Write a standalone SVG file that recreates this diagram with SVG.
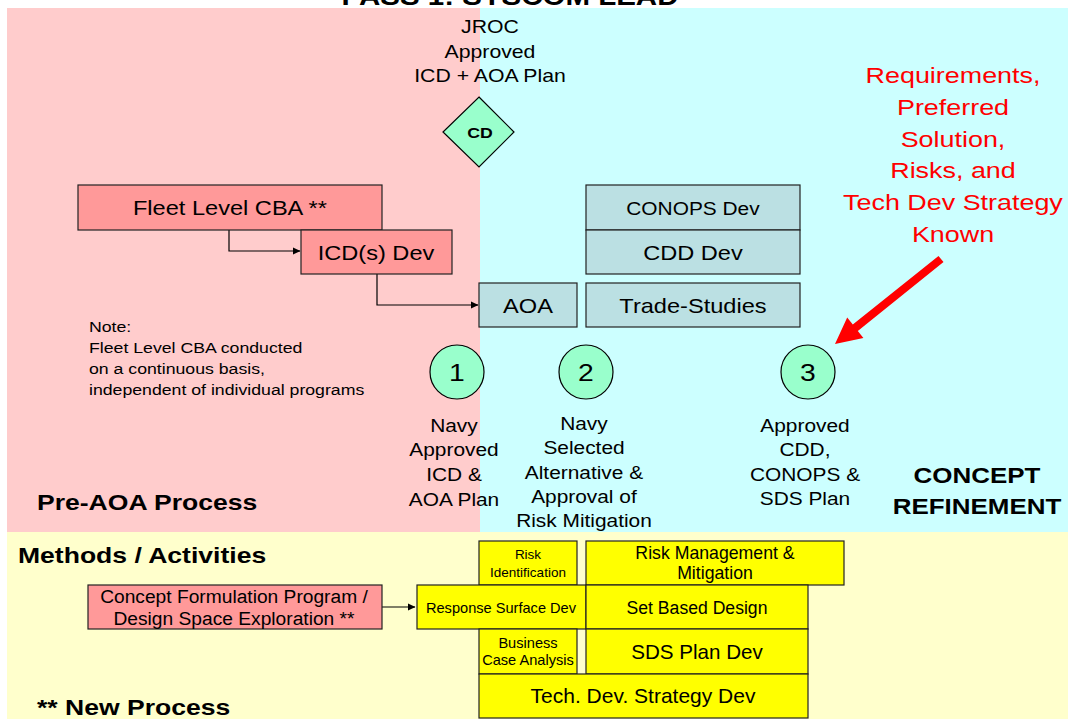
<svg xmlns="http://www.w3.org/2000/svg" width="1068" height="719" viewBox="0 0 1068 719">
  <style>
    text { font-family: "Liberation Sans", Arial, sans-serif; fill: #000; }
    .c { text-anchor: middle; }
    .b { font-weight: bold; }
    /* wide lettering used for the upper panel labels */
    .s { transform-box: fill-box; transform-origin: center; transform: scaleX(1.18); }
    .sl { transform-box: fill-box; transform-origin: left center; transform: scaleX(1.18); }
    .rt { fill: #FF0000; }
    .pink { fill: #FF9999; stroke: #222; stroke-width: 1.2; }
    .teal { fill: #BBE0E3; stroke: #222; stroke-width: 1.2; }
    .yel { fill: #FFFF00; stroke: #222; stroke-width: 1.2; }
    .mile { fill: #99FFCC; stroke: #000; stroke-width: 1.2; }
    .conn { fill: none; stroke: #000; stroke-width: 1.2; }
  </style>
  <defs>
    <marker id="arr" markerWidth="8" markerHeight="8" refX="7" refY="4" orient="auto" markerUnits="userSpaceOnUse">
      <path d="M0,0.5 L7.5,4 L0,7.5 Z" fill="#000"/>
    </marker>
  </defs>

  <!-- background bands -->
  <rect x="0" y="0" width="1068" height="719" fill="#FFFFFF"/>
  <rect x="7" y="8" width="473" height="524" fill="#FFCCCC"/>
  <rect x="480" y="8" width="588" height="524" fill="#CCFFFF"/>
  <rect x="7" y="532" width="1061" height="187" fill="#FFFFCC"/>

  <!-- heading, clipped by the page top -->
  <text class="c b s" x="510" y="5" font-size="25">PASS 1: SYSCOM LEAD</text>

  <!-- section labels -->
  <text class="b sl" x="37" y="510" font-size="22.5">Pre-AOA Process</text>
  <text class="c b s" x="977" y="483" font-size="22">CONCEPT</text>
  <text class="c b s" x="977" y="514" font-size="22">REFINEMENT</text>
  <text class="b sl" x="18" y="563" font-size="22.5">Methods / Activities</text>
  <text class="b sl" x="37" y="715" font-size="22.5">** New Process</text>

  <!-- decision point -->
  <g id="cd">
    <text class="c s" x="490" y="33" font-size="18">JROC</text>
    <text class="c s" x="490" y="58" font-size="18">Approved</text>
    <text class="c s" x="490" y="82" font-size="18">ICD + AOA Plan</text>
    <path d="M479,97 L514,132 L479,167 L443,132 Z" class="mile"/>
    <text class="c b s" x="480" y="138" font-size="15">CD</text>
  </g>

  <!-- connectors -->
  <g id="connectors">
    <path class="conn" d="M229,230 V251 H300" marker-end="url(#arr)"/>
    <path class="conn" d="M377,274 V305 H478" marker-end="url(#arr)"/>
    <path class="conn" d="M382,607 H415" marker-end="url(#arr)"/>
    <!-- red callout arrow -->
    <path d="M938.5,255.9 L943.5,262.1 L857.8,330.9 L863.4,337.9 L835,344 L847.2,317.6 L852.8,324.6 Z" fill="#FF0000"/>
  </g>

  <g id="fleet-cba">
    <rect class="pink" x="78" y="185" width="304" height="45"/>
    <text class="c s" x="230" y="215" font-size="20">Fleet Level CBA **</text>
  </g>
  <g id="icd-dev">
    <rect class="pink" x="301" y="230" width="151" height="44"/>
    <text class="c s" x="376" y="260" font-size="20">ICD(s) Dev</text>
  </g>
  <g id="aoa">
    <rect class="teal" x="479" y="283" width="98" height="44"/>
    <text class="c s" x="528" y="313" font-size="20">AOA</text>
  </g>
  <g id="trade-studies">
    <rect class="teal" x="586" y="283" width="214" height="44"/>
    <text class="c s" x="693" y="313" font-size="20">Trade-Studies</text>
  </g>
  <g id="conops-dev">
    <rect class="teal" x="586" y="185" width="214" height="45"/>
    <text class="c s" x="693" y="215" font-size="17.7">CONOPS Dev</text>
  </g>
  <g id="cdd-dev">
    <rect class="teal" x="586" y="230" width="214" height="44"/>
    <text class="c s" x="693" y="260" font-size="20">CDD Dev</text>
  </g>

  <g id="note">
    <text class="sl" x="89" y="332" font-size="15">Note:</text>
    <text class="sl" x="89" y="353" font-size="15">Fleet Level CBA conducted</text>
    <text class="sl" x="89" y="374" font-size="15">on a continuous basis,</text>
    <text class="sl" x="89" y="395" font-size="15">independent of individual programs</text>
  </g>

  <!-- milestones -->
  <g id="m1">
    <circle class="mile" cx="457" cy="372" r="27"/>
    <text class="c s" x="457" y="381" font-size="24">1</text>
    <text class="c s" x="454" y="432" font-size="17.7">Navy</text>
    <text class="c s" x="454" y="456" font-size="17.7">Approved</text>
    <text class="c s" x="454" y="481" font-size="17.7">ICD &amp;</text>
    <text class="c s" x="454" y="506" font-size="17.7">AOA Plan</text>
  </g>
  <g id="m2">
    <circle class="mile" cx="586" cy="372" r="27"/>
    <text class="c s" x="586" y="381" font-size="24">2</text>
    <text class="c s" x="584" y="430" font-size="17.7">Navy</text>
    <text class="c s" x="584" y="454" font-size="17.7">Selected</text>
    <text class="c s" x="584" y="479" font-size="17.7">Alternative &amp;</text>
    <text class="c s" x="584" y="503" font-size="17.7">Approval of</text>
    <text class="c s" x="584" y="527" font-size="17.7">Risk Mitigation</text>
  </g>
  <g id="m3">
    <circle class="mile" cx="808" cy="372" r="27"/>
    <text class="c s" x="808" y="381" font-size="24">3</text>
    <text class="c s" x="805" y="432" font-size="17.7">Approved</text>
    <text class="c s" x="805" y="456" font-size="17.7">CDD,</text>
    <text class="c s" x="805" y="481" font-size="17.7">CONOPS &amp;</text>
    <text class="c s" x="805" y="505" font-size="17.7">SDS Plan</text>
  </g>

  <g id="callout">
    <text class="c s rt" x="953" y="83" font-size="22.8">Requirements,</text>
    <text class="c s rt" x="953" y="115" font-size="22.8">Preferred</text>
    <text class="c s rt" x="953" y="147" font-size="22.8">Solution,</text>
    <text class="c s rt" x="953" y="178" font-size="22.8">Risks, and</text>
    <text class="c s rt" x="953" y="210" font-size="22.8">Tech Dev Strategy</text>
    <text class="c s rt" x="953" y="242" font-size="22.8">Known</text>
  </g>

  <!-- methods / activities -->
  <g id="concept-formulation">
    <rect class="pink" x="88" y="585" width="294" height="44"/>
    <text class="c" x="234" y="603" font-size="19.2">Concept Formulation Program /</text>
    <text class="c" x="234" y="625" font-size="19.2">Design Space Exploration **</text>
  </g>
  <g id="risk-id">
    <rect class="yel" x="479" y="541" width="98" height="44"/>
    <text class="c" x="528" y="559" font-size="13.5">Risk</text>
    <text class="c" x="528" y="577" font-size="13.5">Identification</text>
  </g>
  <g id="risk-mgmt">
    <rect class="yel" x="586" y="541" width="258" height="44"/>
    <text class="c" x="715" y="559" font-size="17.7">Risk Management &amp;</text>
    <text class="c" x="715" y="579" font-size="17.7">Mitigation</text>
  </g>
  <g id="response-surface">
    <rect class="yel" x="417" y="585" width="169" height="44"/>
    <text class="c" x="501" y="613" font-size="14.6">Response Surface Dev</text>
  </g>
  <g id="set-based">
    <rect class="yel" x="586" y="585" width="222" height="44"/>
    <text class="c" x="697" y="614" font-size="17.6">Set Based Design</text>
  </g>
  <g id="business-case">
    <rect class="yel" x="479" y="629" width="98" height="45"/>
    <text class="c" x="528" y="648" font-size="14.6">Business</text>
    <text class="c" x="528" y="665" font-size="14.6">Case Analysis</text>
  </g>
  <g id="sds-plan">
    <rect class="yel" x="586" y="629" width="222" height="45"/>
    <text class="c" x="697" y="659" font-size="20.6">SDS Plan Dev</text>
  </g>
  <g id="tech-dev">
    <rect class="yel" x="479" y="674" width="329" height="44"/>
    <text class="c" x="643" y="703" font-size="21">Tech. Dev. Strategy Dev</text>
  </g>
</svg>
